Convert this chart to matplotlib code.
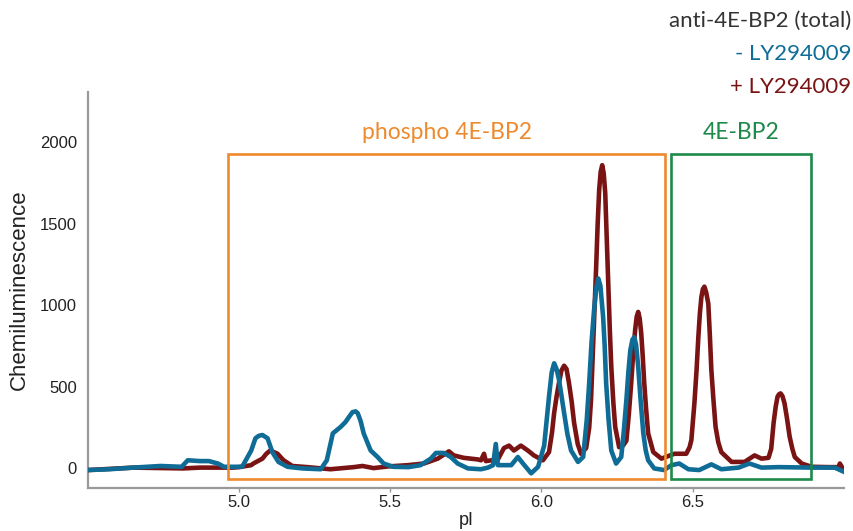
import matplotlib
matplotlib.use("Agg")
import matplotlib.pyplot as plt
from matplotlib.patches import Rectangle

# traces (pI, chemiluminescence)
pi_minus = [4.50, 4.57, 4.65, 4.74, 4.81, 4.83, 4.87, 4.90, 4.93, 4.95,
            4.99, 5.01, 5.04, 5.054, 5.065, 5.077, 5.094, 5.11, 5.13, 5.16,
            5.21, 5.27, 5.29, 5.31, 5.336, 5.352, 5.365, 5.375, 5.385, 5.392,
            5.402, 5.412, 5.435, 5.458, 5.478, 5.51, 5.56, 5.60, 5.634, 5.651,
            5.677, 5.70, 5.723, 5.757, 5.80, 5.823, 5.84, 5.849, 5.856, 5.876,
            5.90, 5.922, 5.939, 5.966, 5.989, 6.009, 6.017, 6.025, 6.034, 6.042,
            6.05, 6.058, 6.066, 6.075, 6.086, 6.098, 6.121, 6.138, 6.150, 6.158,
            6.166, 6.174, 6.181, 6.188, 6.195, 6.204, 6.209, 6.214, 6.222, 6.231,
            6.247, 6.264, 6.272, 6.281, 6.288, 6.294, 6.301, 6.307, 6.313, 6.320,
            6.328, 6.337, 6.345, 6.353, 6.373, 6.406, 6.43, 6.456, 6.486, 6.522,
            6.562, 6.595, 6.652, 6.688, 6.728, 6.785, 6.894, 6.97, 7.00]
cl_minus = [-10, -5, 5, 15, 10, 50, 45, 45, 30, 10,
            10, 10, 110, 185, 200, 205, 185, 100, 40, 10,
            0, -5, 50, 215, 255, 285, 320, 345, 350, 340,
            290, 215, 110, 70, 30, 10, 8, 20, 60, 95,
            95, 70, 30, 0, -5, 5, 20, 150, 20, 20,
            20, 70, 30, -30, 10, 140, 290, 440, 590, 645,
            610, 545, 450, 340, 210, 110, 40, 70, 300, 525,
            780, 970, 1100, 1165, 1120, 930, 760, 525, 300, 110,
            30, 70, 220, 420, 600, 725, 790, 805, 760, 625,
            420, 215, 110, 50, 0, -10, 20, 30, -5, -10,
            25, -5, 5, 30, 5, 8, 5, 5, -20]

pi_plus = [4.50, 4.65, 4.815, 4.87, 4.98, 5.00, 5.04, 5.047, 5.077, 5.09,
           5.103, 5.115, 5.127, 5.147, 5.176, 5.226, 5.302, 5.379, 5.408, 5.445,
           5.491, 5.558, 5.611, 5.657, 5.694, 5.71, 5.743, 5.79, 5.80, 5.81,
           5.816, 5.856, 5.876, 5.893, 5.909, 5.932, 5.955, 5.975, 6.005, 6.025,
           6.035, 6.042, 6.05, 6.058, 6.066, 6.075, 6.083, 6.091, 6.100, 6.108,
           6.120, 6.131, 6.148, 6.158, 6.164, 6.171, 6.176, 6.181, 6.186, 6.191,
           6.196, 6.201, 6.206, 6.211, 6.216, 6.221, 6.226, 6.231, 6.238, 6.244,
           6.257, 6.270, 6.281, 6.289, 6.297, 6.304, 6.310, 6.315, 6.320, 6.325,
           6.330, 6.335, 6.340, 6.346, 6.353, 6.370, 6.397, 6.44, 6.479, 6.490,
           6.496, 6.506, 6.513, 6.519, 6.524, 6.529, 6.534, 6.539, 6.545, 6.552,
           6.557, 6.562, 6.569, 6.576, 6.585, 6.595, 6.629, 6.672, 6.705, 6.728,
           6.751, 6.760, 6.768, 6.775, 6.781, 6.786, 6.791, 6.797, 6.804, 6.812,
           6.821, 6.83, 6.838, 6.861, 6.894, 6.95, 6.983, 6.987, 7.00]
cl_plus = [-10, 5, 0, 5, 5, 8, 20, 30, 60, 90,
           110, 100, 90, 50, 15, 8, -5, 8, 15, 2,
           12, 20, 30, 60, 105, 80, 65, 55, 50, 90,
           45, 55, 125, 140, 110, 140, 110, 80, 50, 100,
           220, 340, 440, 525, 600, 630, 610, 525, 410, 280,
           150, 90, 125, 250, 420, 750, 1000, 1235, 1500, 1710,
           1820, 1860, 1810, 1690, 1420, 1135, 860, 625, 400, 255,
           130, 140, 170, 330, 525, 720, 850, 930, 960, 920,
           830, 690, 525, 370, 215, 100, 60, 90, 90, 130,
           175, 400, 600, 805, 950, 1050, 1100, 1115, 1080, 1010,
           820, 605, 420, 255, 160, 100, 40, 40, 80, 60,
           65, 120, 280, 380, 440, 455, 460, 445, 400, 310,
           195, 120, 70, 30, 10, 8, 8, 30, -10]

# boxes: (label, pI start, pI end, colour)
regions = [("phospho 4E-BP2", 4.964, 6.409, "#ee8a2e"),
           ("4E-BP2", 6.428, 6.892, "#1e8a4a")]
box_bottom = -66
box_top = 1930

blue = "#0f6c96"
red = "#7a1414"
label_font = ["Lato", "DejaVu Sans"]
axis_font = ["Liberation Sans", "DejaVu Sans"]

fig = plt.figure(figsize=(8.54, 5.31), dpi=100)
ax = fig.add_axes([0.103, 0.081, 0.885, 0.746])

ax.plot(pi_plus, cl_plus, color=red, lw=3.3, solid_joinstyle="round", zorder=3)
ax.plot(pi_minus, cl_minus, color=blue, lw=3.3, solid_joinstyle="round", zorder=4)

for name, x0, x1, col in regions:
    ax.add_patch(Rectangle((x0, box_bottom), x1 - x0, box_top - box_bottom,
                           fill=False, edgecolor=col, lw=1.9, zorder=5))
    ax.text((x0 + x1) / 2, 2060, name, color=col, ha="center", va="center",
            fontsize=16.5, family=label_font)

ax.set_xlim(4.5, 7.0)
ax.set_ylim(-120, 2310)
ax.set_xticks([5.0, 5.5, 6.0, 6.5])
ax.set_xticklabels(["5.0", "5.5", "6.0", "6.5"])
ax.set_yticks([0, 500, 1000, 1500, 2000])

for s in ["top", "right"]:
    ax.spines[s].set_visible(False)
for s in ["left", "bottom"]:
    ax.spines[s].set_color("#999999")
    ax.spines[s].set_linewidth(1.6)

ax.tick_params(axis="x", length=3, width=1, color="#999999", pad=2,
               labelsize=12, labelcolor="#222222")
ax.tick_params(axis="y", length=0, pad=8, labelsize=12, labelcolor="#222222")
for lab in ax.get_xticklabels() + ax.get_yticklabels():
    lab.set_family(axis_font)

ax.set_xlabel("pI", fontsize=13, family=axis_font, color="#222222", labelpad=1.5)
ax.set_ylabel("Chemiluminescence", fontsize=16, family=axis_font, color="#222222", labelpad=7)

fig.text(0.9965, 0.960, "anti-4E-BP2 (total)", ha="right", va="center",
         fontsize=16, family=label_font, color="#333333")
fig.text(0.9965, 0.898, "- LY294009", ha="right", va="center",
         fontsize=16, family=label_font, color=blue)
fig.text(0.9965, 0.836, "+ LY294009", ha="right", va="center",
         fontsize=16, family=label_font, color=red)

fig.savefig("out.png", dpi=100)
